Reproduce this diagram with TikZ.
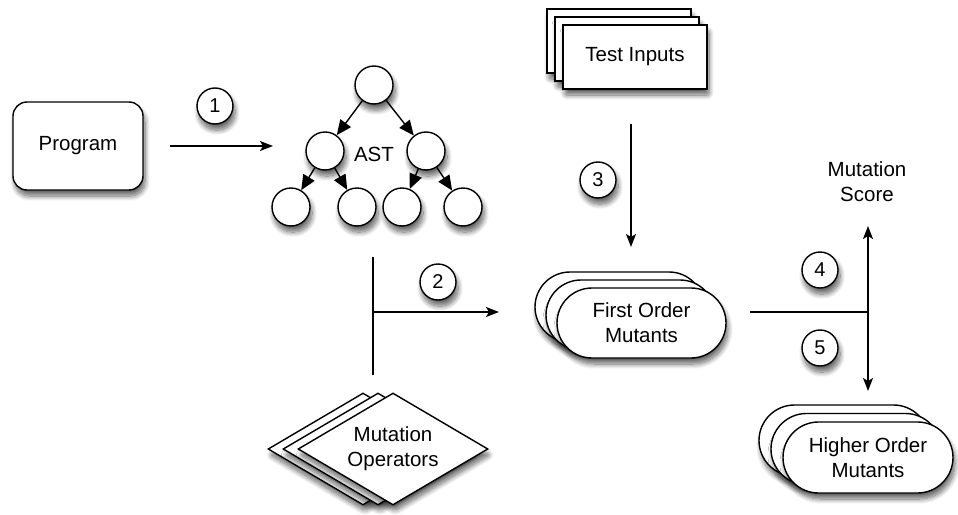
\documentclass[tikz,border=0pt]{standalone}
\usepackage{fontspec}
\setmainfont{Liberation Sans}
\usetikzlibrary{arrows.meta,shapes.geometric,shadows.blur}
\begin{document}
\begin{tikzpicture}[x=1pt,y=-1pt,
  lw/.style={line width=1.4pt},
  shad/.style={blur shadow={shadow xshift=2pt,shadow yshift=-6pt,shadow blur steps=10,shadow blur radius=5pt,shadow blur extra rounding=2pt,shadow opacity=60}},
  txt/.style={font=\fontsize{20.5}{25}\selectfont,align=center},
  progbox/.style={lw,draw,fill=white,rounded corners=14pt,minimum width=130pt,minimum height=88pt,shad,txt},
  numc/.style={lw,draw,fill=white,circle,minimum size=36pt,inner sep=0pt,shad,font=\fontsize{20}{22}\selectfont},
  treec/.style={lw,draw,fill=white,circle,minimum size=38pt,inner sep=0pt,shad},
  cardbox/.style={lw,draw,fill=white,minimum width=144pt,minimum height=64pt,shad,txt},
  stadium/.style={lw,draw,fill=white,rounded corners=35pt,minimum width=169pt,minimum height=70pt,shad,txt},
  opdia/.style={lw,draw,fill=white,diamond,aspect=1.7,inner sep=0pt,minimum width=190pt,minimum height=112pt,shad,txt},
  conn/.style={lw,-{Stealth[length=13pt,width=10pt,inset=3pt]}},
  treearr/.style={lw,-{Triangle[length=15pt,width=13pt]}},
  plain/.style={lw}
]
\useasboundingbox (0,0) rectangle (958,514);

% Program
\node[progbox] (prog) at (78,146) {Program};
\coordinate (a1s) at (170,146);
\coordinate (a1e) at (273,146);
\draw[conn] (a1s) -- (a1e);
\node[numc] (n1) at (215,106) {1};

% AST tree
\node[treec] (t0) at (374,85) {};
\node[treec] (t1) at (325,151) {};
\node[treec] (t2) at (426,151) {};
\node[treec] (t3) at (291,207) {};
\node[treec] (t4) at (357,207) {};
\node[treec] (t5) at (402,207) {};
\node[treec] (t6) at (463,207) {};
\node[txt] (ast) at (374,154) {AST};
\draw[treearr] (t0) -- (t1);
\draw[treearr] (t0) -- (t2);
\draw[treearr] (t1) -- (t3);
\draw[treearr] (t1) -- (t4);
\draw[treearr] (t2) -- (t5);
\draw[treearr] (t2) -- (t6);

% Test inputs
\node[cardbox] (ti3) at (619,41) {};
\node[cardbox] (ti2) at (627,49) {};
\node[cardbox] (ti) at (635,57) {Test Inputs};
\coordinate (a3s) at (631,124);
\coordinate (a3e) at (631,247);
\draw[conn] (a3s) -- (a3e);
\node[numc] (n3) at (598,180) {3};

% First order mutants
\node[stadium] (fo3) at (619.5,307) {};
\node[stadium] (fo2) at (630.5,315) {};
\node[stadium] (fo) at (641.5,323) {First Order\\Mutants};

% Mutation operators
\node[opdia] (mo3) at (363,449) {};
\node[opdia] (mo2) at (378,449) {};
\node[opdia] (mo) at (393,449) {Mutation\\Operators};

% Connector 2
\coordinate (v2t) at (373,257);
\coordinate (v2b) at (373,375);
\coordinate (j2) at (373,312);
\coordinate (a2e) at (499,312);
\draw[plain] (v2t) -- (v2b);
\draw[conn] (j2) -- (a2e);
\node[numc] (n2) at (438,282) {2};

% Connectors 4 and 5
\coordinate (h4s) at (750,312);
\coordinate (j4) at (868,312);
\coordinate (a4e) at (868,226);
\coordinate (a5e) at (868,391);
\draw[plain] (h4s) -- (j4);
\draw[conn] (j4) -- (a4e);
\draw[conn] (j4) -- (a5e);
\node[numc] (n4) at (820,270) {4};
\node[numc] (n5) at (820,348) {5};
\node[txt] (ms) at (867,182) {Mutation\\Score};

% Higher order mutants
\node[stadium,minimum width=170pt,minimum height=71pt,rounded corners=35.5pt] (ho3) at (844,440.5) {};
\node[stadium,minimum width=170pt,minimum height=71pt,rounded corners=35.5pt] (ho2) at (856,449) {};
\node[stadium,minimum width=170pt,minimum height=71pt,rounded corners=35.5pt] (ho) at (868,457.5) {Higher Order\\Mutants};
\end{tikzpicture}
\end{document}
